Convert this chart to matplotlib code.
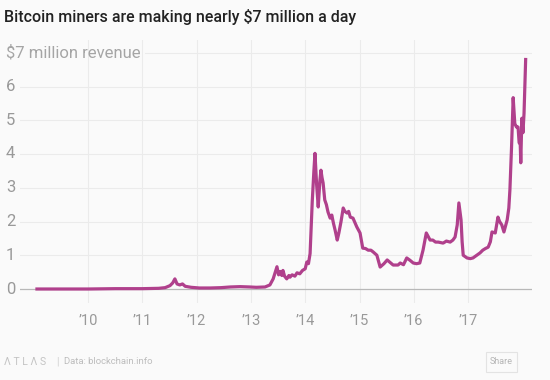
import matplotlib
matplotlib.use("Agg")
import matplotlib.pyplot as plt
import matplotlib.transforms as mtransforms
from matplotlib.patches import FancyBboxPatch

plt.rcParams['font.family'] = ['Roboto', 'DejaVu Sans']

# Data: daily miner revenue (USD millions), x in fractional years on the chart's axis
years = [2009.06, 2009.5, 2010.0, 2010.5, 2011.0, 2011.3, 2011.42, 2011.51, 2011.56, 2011.60,
         2011.64, 2011.69, 2011.74, 2011.79, 2011.9, 2012.05, 2012.25, 2012.45, 2012.62, 2012.8,
         2012.98, 2013.1, 2013.26, 2013.35, 2013.41, 2013.44, 2013.48, 2013.51, 2013.54, 2013.57,
         2013.59, 2013.62, 2013.66, 2013.70, 2013.72, 2013.76, 2013.81, 2013.85, 2013.90, 2013.95,
         2014.00, 2014.03, 2014.06, 2014.09, 2014.11, 2014.13, 2014.16, 2014.18, 2014.21, 2014.24,
         2014.27, 2014.29, 2014.31, 2014.33, 2014.36, 2014.39, 2014.42, 2014.46, 2014.49, 2014.52,
         2014.55, 2014.59, 2014.62, 2014.66, 2014.70, 2014.73, 2014.77, 2014.80, 2014.83, 2014.88,
         2014.95, 2015.01, 2015.06, 2015.11, 2015.16, 2015.21, 2015.25, 2015.32, 2015.38, 2015.45,
         2015.51, 2015.57, 2015.62, 2015.71, 2015.75, 2015.81, 2015.87, 2015.93, 2015.99, 2016.05,
         2016.11, 2016.17, 2016.23, 2016.30, 2016.35, 2016.40, 2016.45, 2016.54, 2016.60, 2016.67,
         2016.72, 2016.76, 2016.80, 2016.83, 2016.85, 2016.87, 2016.89, 2016.91, 2016.98, 2017.04,
         2017.09, 2017.16, 2017.22, 2017.27, 2017.32, 2017.37, 2017.41, 2017.44, 2017.50, 2017.55,
         2017.58, 2017.62, 2017.66, 2017.72, 2017.75, 2017.77, 2017.80, 2017.83, 2017.86, 2017.89,
         2017.92, 2017.94, 2017.96, 2017.97, 2017.99, 2018.01, 2018.03, 2018.06]
revenue = [0.0, 0.0, 0.0, 0.01, 0.01, 0.02, 0.04, 0.10, 0.18, 0.30,
           0.15, 0.12, 0.15, 0.08, 0.05, 0.03, 0.03, 0.04, 0.06, 0.07,
           0.06, 0.05, 0.06, 0.12, 0.30, 0.45, 0.66, 0.42, 0.52, 0.40,
           0.55, 0.38, 0.30, 0.40, 0.35, 0.42, 0.38, 0.48, 0.45, 0.55,
           0.60, 0.80, 0.75, 1.05, 1.80, 2.60, 3.50, 4.02, 3.10, 2.43,
           3.20, 3.52, 3.30, 3.14, 2.64, 2.50, 2.28, 2.10, 2.19, 1.95,
           1.75, 1.45, 1.66, 2.00, 2.40, 2.30, 2.25, 2.30, 2.13, 2.10,
           1.84, 1.66, 1.21, 1.20, 1.15, 1.15, 1.10, 1.00, 0.65, 0.75,
           0.86, 0.78, 0.71, 0.71, 0.77, 0.72, 0.92, 0.85, 0.77, 0.75,
           0.77, 1.15, 1.66, 1.45, 1.45, 1.39, 1.39, 1.36, 1.42, 1.39,
           1.45, 1.54, 1.90, 2.55, 2.30, 2.05, 1.40, 1.00, 0.92, 0.90,
           0.92, 1.00, 1.07, 1.15, 1.20, 1.24, 1.40, 1.69, 1.66, 2.13,
           2.00, 1.90, 1.69, 2.05, 2.40, 2.94, 4.20, 5.67, 4.90, 4.80,
           4.80, 4.33, 4.30, 3.74, 5.06, 4.63, 5.20, 6.80]

y_ticks = [0, 1, 2, 3, 4, 5, 6]
x_ticks = [2010, 2011, 2012, 2013, 2014, 2015, 2016, 2017]
x_labels = ["\u201910", "\u201911", "\u201912", "\u201913", "\u201914", "\u201915", "\u201916", "\u201917"]

W, H = 550, 380
fig = plt.figure(figsize=(W / 100, H / 100), dpi=100)
bg = '#fafafa'
fig.patch.set_facecolor(bg)

# axes geometry in pixels
x0_px, x1_px = 20, 532
y_top_px, y_bot_px = 40, 303
ax = fig.add_axes([x0_px / W, (H - y_bot_px) / H, (x1_px - x0_px) / W, (y_bot_px - y_top_px) / H])
ax.set_facecolor(bg)

px_per_year = 54.3
x_left = 2010 + (x0_px - 88) / px_per_year
x_right = 2010 + (x1_px - 88) / px_per_year
ax.set_xlim(x_left, x_right)
unit = 33.75
ax.set_ylim((289 - y_bot_px) / unit, (289 - y_top_px) / unit)

for s in ax.spines.values():
    s.set_visible(False)
ax.set_xticks([])
ax.set_yticks([])

grid_c = '#ebebeb'
for xt in x_ticks:
    ax.axvline(xt, color=grid_c, lw=0.8, zorder=0)
for yt in y_ticks[1:]:
    ax.axhline(yt, color=grid_c, lw=0.8, zorder=0)
# top gridline (7) after the unit label
ax.axhline(7, xmin=(145 - x0_px) / (x1_px - x0_px), color=grid_c, lw=0.8, zorder=0)
ax.axhline(0, color='#b8b8b8', lw=0.9, zorder=1)

ax.plot(years, revenue, color='#b0408c', lw=2.3, solid_joinstyle='round', zorder=3)

# y tick labels
tr_y = mtransforms.blended_transform_factory(fig.transFigure, ax.transData)
for yt in y_ticks:
    ax.text(6 / W, yt, str(yt), transform=tr_y, ha='left', va='center',
            fontsize=12, color='#999999')
ax.text(6 / W, 7, "$7 million revenue", transform=tr_y, ha='left', va='center',
        fontsize=12, color='#a5a5a5')

# x tick labels
tr_x = mtransforms.blended_transform_factory(ax.transData, fig.transFigure)
for xt, lab in zip(x_ticks, x_labels):
    ax.text(xt, (H - 321) / H, lab, transform=tr_x, ha='center', va='center',
            fontsize=10.5, color='#999999')

# title
fig.text(4 / W, (H - 17) / H, "Bitcoin miners are making nearly $7 million a day",
         ha='left', va='center', fontsize=11.5, color='#222222', fontweight='medium')

# footer
fig.text(4 / W, (H - 362) / H, "\u039b T L \u039b S", ha='left', va='center',
         fontsize=7.5, color='#c4c4c4')
fig.text(56 / W, (H - 362) / H, "|", ha='left', va='center', fontsize=7.5, color='#d0d0d0')
fig.text(64 / W, (H - 362) / H, "Data: blockchain.info", ha='left', va='center',
         fontsize=6.8, color='#bdbdbd')
box = FancyBboxPatch((486 / W, (H - 372) / H), 31 / W, 20 / H,
                     boxstyle="square,pad=0", transform=fig.transFigure,
                     facecolor=bg, edgecolor='#e3e3e3', lw=0.8)
fig.patches.append(box)
fig.text(501.5 / W, (H - 362) / H, "Share", ha='center', va='center',
         fontsize=6.5, color='#b5b5b5')

fig.savefig("out.png", dpi=100, facecolor=bg)
